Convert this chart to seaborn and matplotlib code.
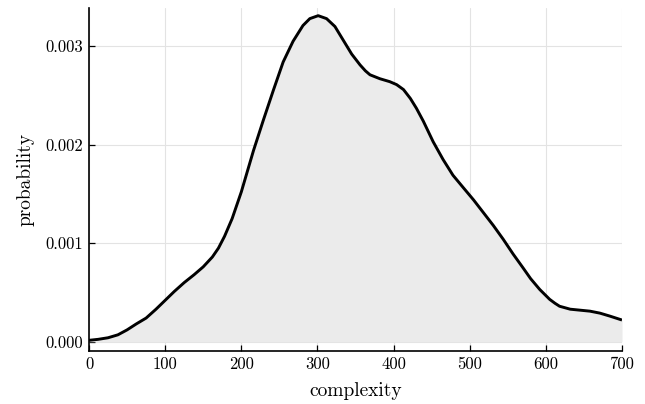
import matplotlib
matplotlib.use("Agg")
import matplotlib.pyplot as plt
import seaborn as sns
import pandas as pd

# complexity values (x) and estimated density (y)
complexity = [0, 12, 25, 38, 50, 62, 75, 88, 100, 112, 125, 138, 150, 162, 170, 178, 188,
              200, 216, 229, 242, 255, 268, 281, 290, 301, 312, 323, 334, 345, 356, 363,
              369, 382, 395, 404, 413, 422, 430, 439, 452, 465, 478, 492, 505, 518,
              531, 544, 557, 570, 580, 592, 605, 612, 618, 632, 645, 658, 671, 684, 700]
probability = [0.000014, 0.000024, 0.00004, 0.00007, 0.00012, 0.00018, 0.00024, 0.00033,
               0.00042, 0.00051, 0.00060, 0.00068, 0.00076, 0.00086, 0.00095, 0.00107,
               0.00125, 0.00152, 0.00194, 0.00225, 0.00255, 0.00284, 0.00305, 0.00321,
               0.00328, 0.00331, 0.00328, 0.00320, 0.00306, 0.00292, 0.00281, 0.00275,
               0.00271, 0.00267, 0.00264, 0.00261, 0.00256, 0.00247, 0.00237, 0.00224,
               0.00203, 0.00185, 0.00169, 0.00156, 0.00144, 0.00131, 0.00118, 0.00104,
               0.00089, 0.00075, 0.00064, 0.00053, 0.00043, 0.00039, 0.00036, 0.00033,
               0.00032, 0.00031, 0.00029, 0.00026, 0.00022]

x_ticks = [0, 100, 200, 300, 400, 500, 600, 700]
x_tick_labels = ["0", "100", "200", "300", "400", "500", "600", "700"]
y_ticks = [0.000, 0.001, 0.002, 0.003]
y_tick_labels = ["0.000", "0.001", "0.002", "0.003"]

df = pd.DataFrame({"complexity": complexity, "probability": probability})

sns.set_theme(style="white")
plt.rcParams["font.family"] = ["cmr10", "DejaVu Serif"]
plt.rcParams["axes.formatter.use_mathtext"] = True

fig = plt.figure(figsize=(6.45, 4.04), dpi=100)
ax = fig.add_axes([89 / 645, 1 - 351 / 404, (622 - 89) / 645, (351 - 7.5) / 404])

ax.fill_between(df["complexity"], 0, df["probability"], color="#ebebeb", linewidth=0, zorder=1)
sns.lineplot(data=df, x="complexity", y="probability", color="black", linewidth=2.1,
             ax=ax, zorder=3, solid_joinstyle="round", solid_capstyle="butt")

ax.set_xlim(0, 700)
ax.set_ylim(-0.0000944, 0.003393)
ax.set_xticks(x_ticks)
ax.set_xticklabels(x_tick_labels)
ax.set_yticks(y_ticks)
ax.set_yticklabels(y_tick_labels)

ax.grid(True, color="#e3e3e3", linewidth=0.8, zorder=0)
ax.set_axisbelow(True)

for s in ["top", "right"]:
    ax.spines[s].set_visible(False)
for s in ["left", "bottom"]:
    ax.spines[s].set_color("black")
    ax.spines[s].set_linewidth(1.2)

ax.tick_params(axis="both", direction="in", length=4, width=0.9, color="black",
               labelsize=12, labelcolor="black", pad=4,
               left=True, bottom=True)

ax.set_xlabel("complexity", fontsize=14, color="black", labelpad=7)
ax.set_ylabel("probability", fontsize=14, color="black", labelpad=8)

fig.savefig("out.png", dpi=100)
